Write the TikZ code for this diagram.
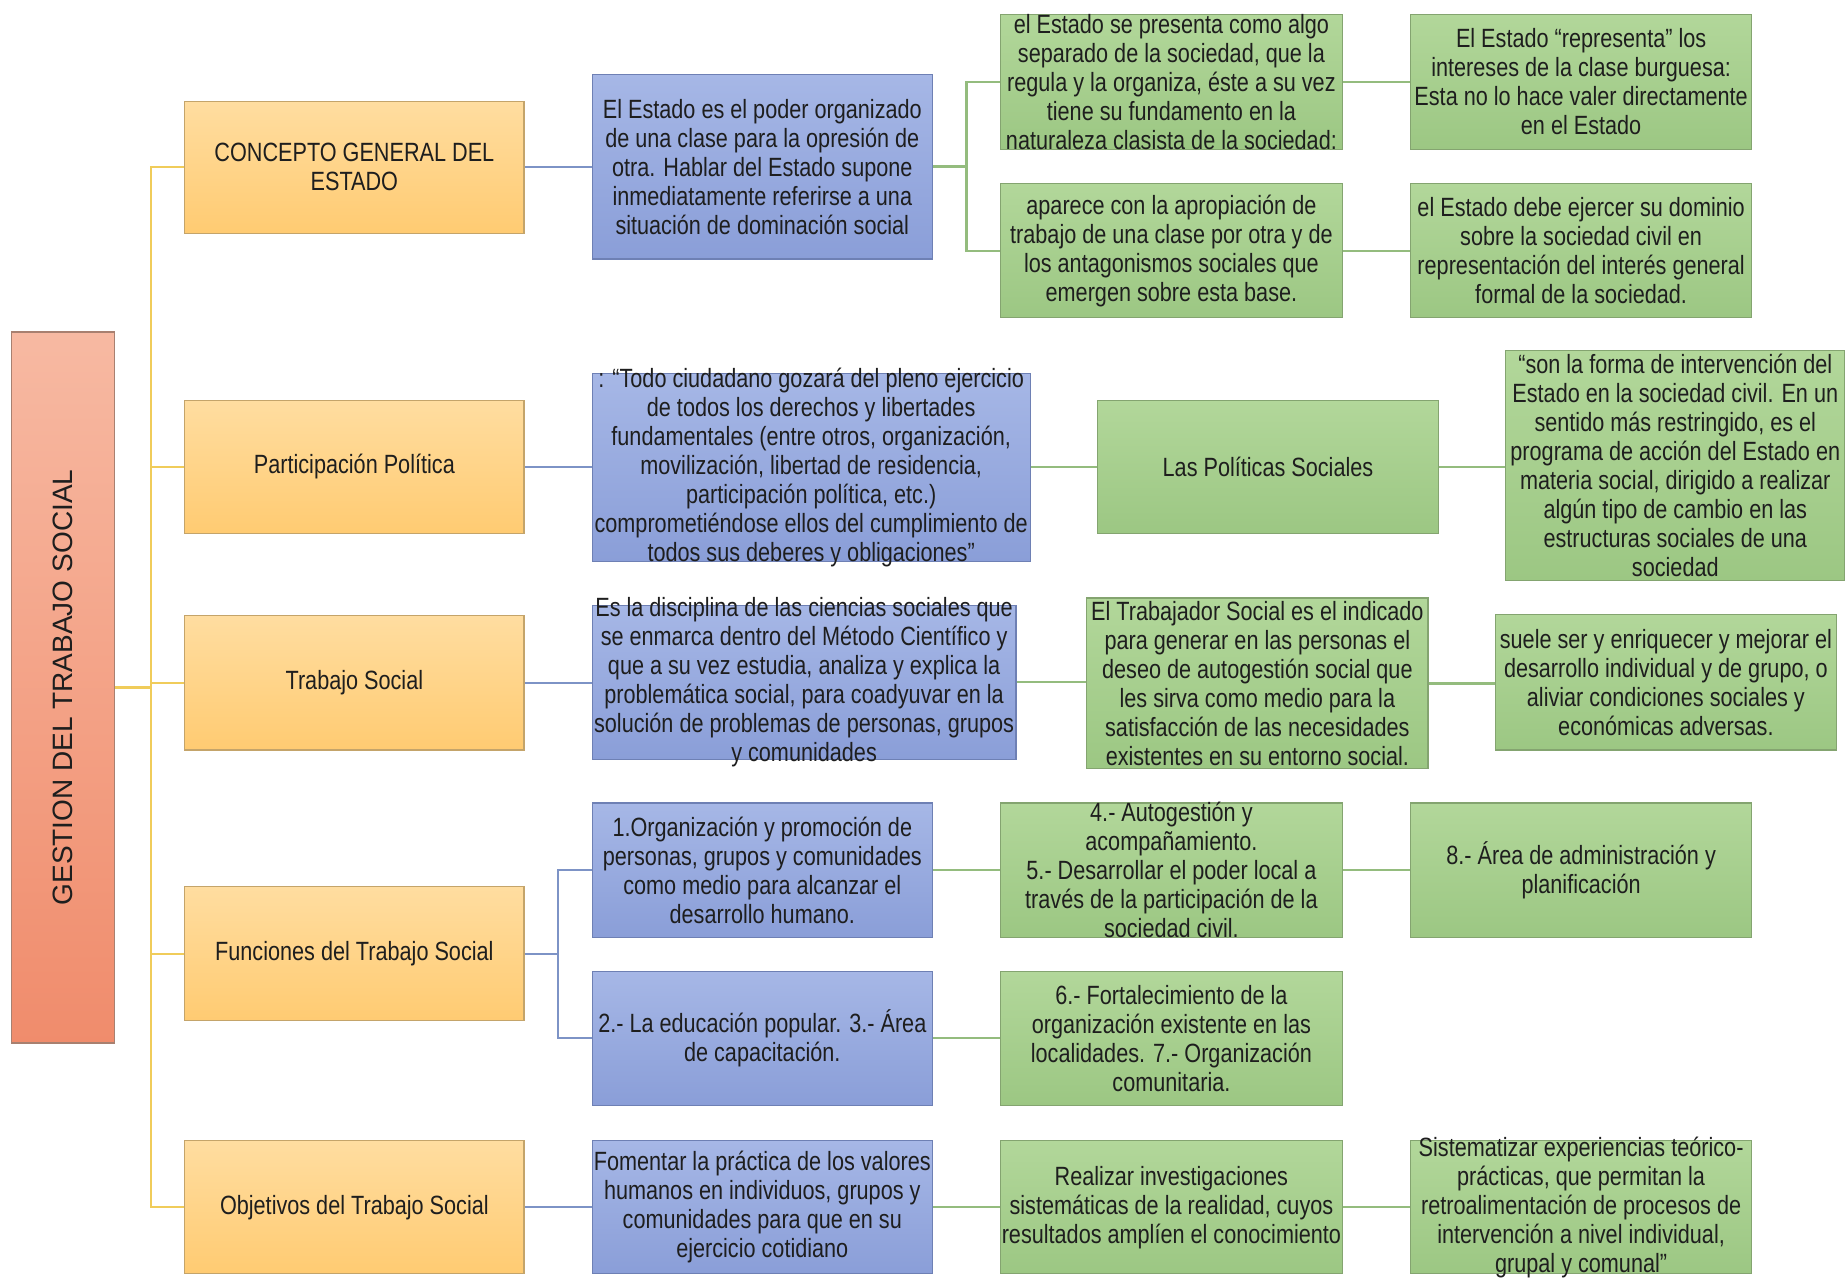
\documentclass[tikz,border=0pt]{standalone}
\usepackage{fontspec}
\setmainfont{Liberation Sans}[FakeStretch=0.82]
\newfontfamily\rootfont{Liberation Sans}
\definecolor{otop}{HTML}{FFDDA0}
\definecolor{obot}{HTML}{FFCB72}
\definecolor{oedge}{HTML}{C4A46A}
\definecolor{btop}{HTML}{A6B7E6}
\definecolor{bbot}{HTML}{8A9ED8}
\definecolor{bedge}{HTML}{6E80B4}
\definecolor{gtop}{HTML}{B2D79A}
\definecolor{gbot}{HTML}{9CC783}
\definecolor{gedge}{HTML}{84A470}
\definecolor{rtop}{HTML}{F7B9A2}
\definecolor{rbot}{HTML}{F08C6C}
\definecolor{redge}{HTML}{A88070}
\definecolor{ylinec}{HTML}{F0CC5A}
\definecolor{blinec}{HTML}{7D93C6}
\definecolor{glinec}{HTML}{94BC7E}
\definecolor{txtc}{HTML}{1E1E1E}
\tikzset{
  box/.style={draw, line width=0.6pt, inner sep=0pt},
  obox/.style={box, draw=oedge, top color=otop, bottom color=obot},
  bbox/.style={box, draw=bedge, top color=btop, bottom color=bbot},
  gbox/.style={box, draw=gedge, top color=gtop, bottom color=gbot},
  rbox/.style={box, draw=redge, top color=rtop, bottom color=rbot},
  txt/.style={inner sep=0pt, align=center, text=txtc, font=\fontsize{13.2pt}{14.5pt}\selectfont},
  yline/.style={draw=ylinec, line width=1.1pt},
  bline/.style={draw=blinec, line width=1.1pt},
  gline/.style={draw=glinec, line width=1.1pt},
}
\newcommand\mybox[7]{%
  \node[#2, minimum width={(#5-#3)*0.5887pt}, minimum height={(#6-#4)*0.5887pt}] (#1) at ({(#3+#5)/2},{(#4+#6)/2}) {};
  \node[txt] (#1t) at (#1.center) {#7};
}
\begin{document}
\begin{tikzpicture}[x=0.5887pt, y=-0.5887pt]
\useasboundingbox[fill=white] (0,0) rectangle (1568,1087.2);
% root
\node[rbox, minimum width={87*0.5887pt}, minimum height={604*0.5887pt}] (root) at (53.5,584) {};
\node[inner sep=0pt, rotate=90, text=txtc, font=\rootfont\fontsize{14pt}{16pt}\selectfont] (roott) at (root.center) {GESTION DEL TRABAJO SOCIAL};
% level 1
\mybox{o1}{obox}{157}{86}{445}{198}{CONCEPTO GENERAL DEL\\ESTADO}
\mybox{o2}{obox}{157}{340}{445}{453}{Participación Política}
\mybox{o3}{obox}{157}{523}{445}{637}{Trabajo Social}
\mybox{o4}{obox}{157}{753}{445}{867}{Funciones del Trabajo Social}
\mybox{o5}{obox}{157}{969}{445}{1082}{Objetivos del Trabajo Social}
% level 2
\mybox{b1}{bbox}{503}{63}{792}{220}{El Estado es el poder organizado\\de una clase para la opresión de\\otra. Hablar del Estado supone\\inmediatamente  referirse a una\\situación de dominación social}
\mybox{b2}{bbox}{503}{317}{875}{477}{: “Todo ciudadano gozará del pleno ejercicio\\de todos los derechos y libertades\\fundamentales  (entre otros, organización,\\movilización,  libertad de residencia,\\participación política, etc.)\\comprometiéndose ellos del cumplimiento  de\\todos sus deberes y obligaciones”}
\mybox{b3}{bbox}{503}{514}{863}{645}{Es la disciplina  de las ciencias sociales que\\se enmarca dentro del Método Científico y\\que a su vez estudia, analiza y explica la\\problemática  social, para coadyuvar en la\\solución de problemas  de personas, grupos\\y comunidades}
\mybox{b4}{bbox}{503}{682}{792}{796}{1.Organización y promoción de\\personas, grupos y comunidades\\como medio para alcanzar el\\desarrollo humano.}
\mybox{b5}{bbox}{503}{825}{792}{939}{2.- La educación popular.  3.- Área\\de capacitación.}
\mybox{b6}{bbox}{503}{969}{792}{1082}{Fomentar la práctica de los valores\\humanos en individuos, grupos y\\comunidades  para que en su\\ejercicio cotidiano}
% level 3
\mybox{g1}{gbox}{850}{12}{1140}{127}{el Estado se presenta como algo\\separado de la sociedad, que la\\regula  y la organiza, éste a su vez\\tiene su fundamento  en la\\naturaleza  clasista de la sociedad:}
\mybox{g2}{gbox}{850}{156}{1140}{270}{aparece con la apropiación de\\trabajo de una clase por otra y de\\los antagonismos sociales que\\emergen sobre esta base.}
\mybox{g3}{gbox}{932}{340}{1222}{453}{Las Políticas Sociales}
\mybox{g4}{gbox}{923}{508}{1213}{653}{El Trabajador Social es el indicado\\para generar en las personas el\\deseo de autogestión social que\\les sirva como medio para la\\satisfacción de las necesidades\\existentes en su entorno social.}
\mybox{g5}{gbox}{850}{682}{1140}{796}{4.- Autogestión y\\acompañamiento.\\5.- Desarrollar el poder local a\\través de la participación de la\\sociedad civil.}
\mybox{g6}{gbox}{850}{825}{1140}{939}{6.- Fortalecimiento de la\\organización existente en las\\localidades. 7.- Organización\\comunitaria.}
\mybox{g7}{gbox}{850}{969}{1140}{1082}{Realizar investigaciones\\sistemáticas de la realidad, cuyos\\resultados amplíen  el conocimiento}
% level 4
\mybox{h1}{gbox}{1198}{12}{1488}{127}{El Estado “representa” los\\intereses de la clase burguesa:\\Esta no lo hace valer directamente\\en el Estado}
\mybox{h2}{gbox}{1198}{156}{1488}{270}{el Estado debe ejercer su dominio\\sobre la sociedad civil en\\representación del interés general\\formal de la sociedad.}
\mybox{h3}{gbox}{1279}{298}{1567}{493}{“son la forma de intervención del\\Estado en la sociedad civil. En un\\sentido más restringido, es el\\programa de acción del Estado en\\materia social, dirigido a realizar\\algún tipo de cambio en las\\estructuras sociales de una\\sociedad}
\mybox{h4}{gbox}{1270}{522}{1560}{637}{suele ser y  enriquecer y mejorar el\\desarrollo individual  y de grupo, o\\aliviar condiciones sociales y\\económicas adversas.}
\mybox{h5}{gbox}{1198}{682}{1488}{796}{8.- Área de administración y\\planificación}
\mybox{h6}{gbox}{1198}{969}{1488}{1082}{Sistematizar experiencias teórico-\\prácticas, que permitan la\\retroalimentación de procesos de\\intervención a nivel individual,\\grupal  y comunal”}
% trunk
\coordinate (tk) at (128,0);
\draw[yline] (root.east) -- (root.east -| tk);
\draw[yline] (o1.west) -- (o1.west -| tk) -- (o5.west -| tk) -- (o5.west);
\draw[yline] (o2.west) -- (o2.west -| tk);
\draw[yline] (o3.west) -- (o3.west -| tk);
\draw[yline] (o4.west) -- (o4.west -| tk);
% orange -> blue
\draw[bline] (o1.east) -- (o1.east -| b1.west);
\draw[bline] (o2.east) -- (o2.east -| b2.west);
\draw[bline] (o3.east) -- (o3.east -| b3.west);
\draw[bline] (o5.east) -- (o5.east -| b6.west);
\coordinate (fb) at (474,0);
\draw[bline] (o4.east) -- (o4.east -| fb);
\draw[bline] (b4.west) -- (b4.west -| fb) -- (b5.west -| fb) -- (b5.west);
% blue -> green
\coordinate (gb) at (821,0);
\draw[gline] (b1.east) -- (b1.east -| gb);
\draw[gline] (g1.west) -- (g1.west -| gb) -- (g2.west -| gb) -- (g2.west);
\draw[gline] (b2.east) -- (b2.east -| g3.west);
\draw[gline] (b3.east) -- (b3.east -| g4.west);
\draw[gline] (b4.east) -- (b4.east -| g5.west);
\draw[gline] (b5.east) -- (b5.east -| g6.west);
\draw[gline] (b6.east) -- (b6.east -| g7.west);
% green -> green
\draw[gline] (g1.east) -- (g1.east -| h1.west);
\draw[gline] (g2.east) -- (g2.east -| h2.west);
\draw[gline] (g3.east) -- (g3.east -| h3.west);
\draw[gline] (g4.east) -- (g4.east -| h4.west);
\draw[gline] (g5.east) -- (g5.east -| h5.west);
\draw[gline] (g7.east) -- (g7.east -| h6.west);
\end{tikzpicture}
\end{document}
